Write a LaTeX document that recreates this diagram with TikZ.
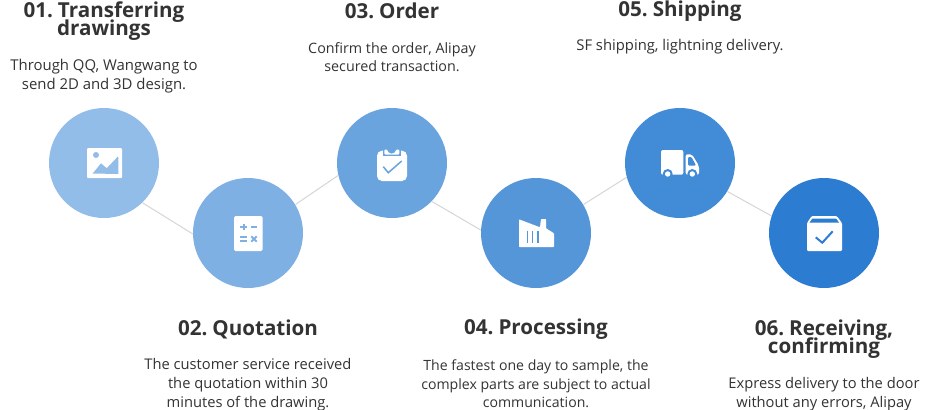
\documentclass[tikz,border=0pt]{standalone}
\usepackage{fontspec}
\setmainfont{Open Sans}
\newfontfamily\headfont[WordSpace=0.6]{Open Sans}
\definecolor{cA}{HTML}{93BDE9}
\definecolor{cB}{HTML}{7FB0E4}
\definecolor{cC}{HTML}{69A4DE}
\definecolor{cD}{HTML}{5596D9}
\definecolor{cE}{HTML}{428BD6}
\definecolor{cF}{HTML}{2C7CD2}
\definecolor{ink}{HTML}{333333}
\definecolor{linkc}{HTML}{D6D6D6}
\newcommand\tightlines{\setlength{\lineskiplimit}{-20pt}\setlength{\lineskip}{0pt}}
\tikzset{
  disc/.style={circle,minimum size=110pt,inner sep=0pt,fill=#1},
  headtxt/.style={font={\headfont\bfseries\fontsize{20.6}{18.6}\selectfont\tightlines},text=ink,align=center,inner sep=0pt},
  bodytxt/.style={font={\fontsize{#1}{18.6}\selectfont\tightlines},text=ink,align=center,inner sep=0pt},
  linkline/.style={draw=linkc,line width=1pt}
}
\begin{document}
\begin{tikzpicture}[x=1pt,y=-1pt]
\useasboundingbox (0,0) rectangle (930,410);
\fill[white] (0,0) rectangle (930,410);
\node[disc=cA] (c1) at (104,163) {};
\node[disc=cB] (c2) at (248,233) {};
\node[disc=cC] (c3) at (392,163) {};
\node[disc=cD] (c4) at (536,233) {};
\node[disc=cE] (c5) at (680,163) {};
\node[disc=cF] (c6) at (824,233) {};
\draw[linkline] (c1.-46) -- (c2.181);
\draw[linkline] (c2.31) -- (c3.193);
\draw[linkline] (c3.-44) -- (c4.177);
\draw[linkline] (c4.31) -- (c5.195);
\draw[linkline] (c5.-31) -- (c6.162);
% icon 1
\fill[white,rounded corners=1pt] (87,148) rectangle (122,178);
\fill[cA] (96,155) circle (3);
\fill[cA] (92.7,173.5) -- (101,163.3) -- (106.7,168.3) -- (117.7,156.7) -- (118.3,157) -- (118.3,174) -- cycle;
% icon 2
\fill[white,rounded corners=1.5pt] (234,216) rectangle (262.7,251);
\draw[cB,line width=2pt] (240.3,227) -- (246.7,227) (243.5,223.8) -- (243.5,230.2) (251,227) -- (257,227);
\draw[cB,line width=1.6pt] (240.3,237.2) -- (246.7,237.2) (240.3,240.8) -- (246.7,240.8);
\draw[cB,line width=2pt] (251.3,236.3) -- (256.7,241.7) (256.7,236.3) -- (251.3,241.7);
% icon 3
\fill[white,rounded corners=5pt] (377,150.7) rectangle (407,181);
\fill[cC] (383,147.5) rectangle (401,156);
\fill[white,rounded corners=1pt] (384.3,149.5) -- (387.5,149.5) arc (180:0:4.2) -- (399.3,149.5) -- (399.3,154.5) -- (384.3,154.5) -- cycle;
\fill[cC] (391.7,149.5) circle (1.3);
\draw[cC,line width=1.5pt] (383.3,166.7) -- (388.3,172.7) -- (401.7,161);
% icon 4
\fill[white,rounded corners=.7pt] (519,219.3) -- (540,227.3) -- (541,219) -- (546,219) -- (546,228.3) -- (554,233.3) -- (554,247) -- (519,247) -- cycle;
\draw[cD,line width=1.5pt] (527.3,230.7) -- (527.3,243.3) (532.7,230.7) -- (532.7,243.3) (538,230.7) -- (538,243.3);
% icon 5
\fill[white,rounded corners=2pt] (661,150) -- (683.3,150) -- (683.3,174.7) -- (661,174.7) -- cycle;
\fill[white,rounded corners=2pt] (685.7,154.3) -- (692,154.3) -- (699,166) -- (699,174.7) -- (685.7,174.7) -- cycle;
\fill[cE,rounded corners=1pt] (688,157) -- (691.5,157) -- (696,165.5) -- (688,165.5) -- cycle;
\fill[cE] (667.7,174) circle (5);
\fill[cE] (692.3,174) circle (5);
\fill[white] (667.7,174) circle (2.7);
\fill[white] (692.3,174) circle (2.7);
% icon 6
\fill[white,rounded corners=1.2pt] (807,223) -- (811.7,216) -- (836.7,216) -- (842,223) -- (842,251) -- (807,251) -- cycle;
\fill[cF] (812.5,218.5) -- (836,218.5) -- (839,222.5) -- (809.5,222.5) -- cycle;
\draw[cF,line width=2pt] (815.7,237.3) -- (822.3,242.7) -- (832.7,231.3);
% text
\node[headtxt] (h1) at (104,21) {01. Transferring\\drawings};
\node[bodytxt=14.9] (b1) at (104,76) {Through QQ, Wangwang to\\send 2D and 3D design.};
\node[headtxt] (h2) at (248,329) {02. Quotation};
\node[bodytxt=14.7] (b2) at (248,384.7) {The customer service received\\the quotation within 30\\minutes of the drawing.};
\node[headtxt] (h3) at (392,11) {03. Order};
\node[bodytxt=14.3] (b3) at (392,57) {Confirm the order, Alipay\\secured transaction.};
\node[headtxt] (h4) at (536,329) {04. Processing};
\node[bodytxt=14.1] (b4) at (536,384) {The fastest one day to sample, the\\complex parts are subject to actual\\communication.};
\node[headtxt] (h5) at (680,11) {05. Shipping};
\node[bodytxt=14.8] (b5) at (680,47) {SF shipping, lightning delivery.};
\node[headtxt] (h6) at (824,339) {06. Receiving,\\confirming};
\node[bodytxt=14.7] (b6) at (824,394) {Express delivery to the door\\without any errors, Alipay};
\end{tikzpicture}
\end{document}
